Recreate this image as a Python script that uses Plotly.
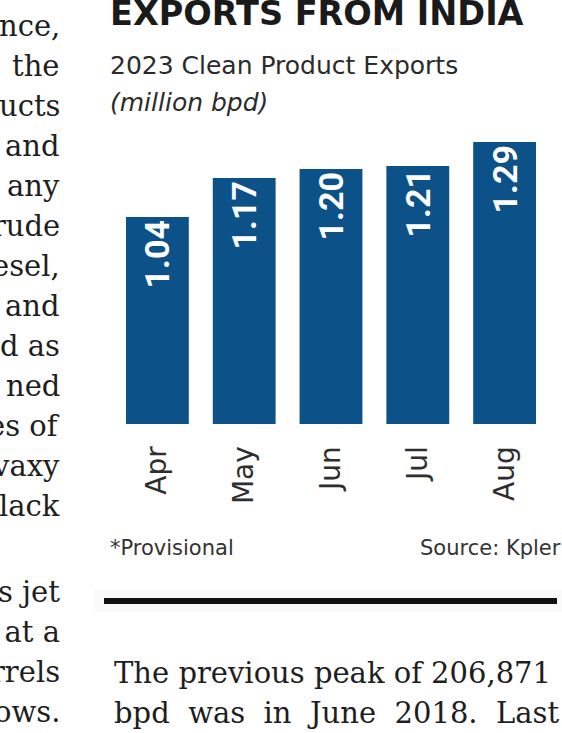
import plotly.graph_objects as go

# ---- data ----
months = ["Apr", "May", "Jun", "Jul", "Aug"]
exports_mbpd = [1.04, 1.17, 1.20, 1.21, 1.29]

title_text = "EXPORTS FROM INDIA"
subtitle_text = "2023 Clean Product Exports"
unit_text = "(million bpd)"
note_text = "*Provisional"
source_text = "Source: Kpler"

left_col_a = ["nce,", "the", "ucts", "and", "any", "rude", "esel,", "and",
              "d as", "ned", "es of", "vaxy", "lack"]
left_col_b = ["s jet", "l at a", "rrels", "ows."]
body_lines = ["The previous peak of 206,871",
              "bpd\u00a0\u00a0was\u00a0\u00a0in\u00a0\u00a0June\u00a0\u00a02018.\u00a0\u00a0Last"]

# ---- layout geometry ----
W, H = 562, 733
ML, MR, MT, MB = 114, 14, 109, 309
PW, PH = W - ML - MR, H - MT - MB


def px(x):
    return (x - ML) / PW


def py(y):
    return (H - MB - y) / PH


BAR = "#0c5289"
SERIF = "DejaVu Serif"
SANS = "DejaVu Sans"

fig = go.Figure(go.Bar(
    x=months, y=exports_mbpd,
    marker=dict(color=BAR, line=dict(width=0)),
    texttemplate="%{y:.2f}",
    textposition="inside",
    insidetextanchor="end",
    textangle=-90,
    insidetextfont=dict(family="Roboto", size=34, color="white", weight="bold"),
    hoverinfo="skip",
))

ann = []


def add(text, x, y, size, family=SANS, color="#1b1b1b", xanchor="left", **kw):
    ann.append(dict(text=text, x=px(x), y=py(y), xref="paper", yref="paper",
                    xanchor=xanchor, yanchor="middle", showarrow=False,
                    font=dict(family=family, size=size, color=color, **kw)))


# headline texts
add("<b>" + title_text + "</b>", 108, 14, 33.5, color="#1a1a1a")
add(subtitle_text, 108, 65, 25, color="#2b2b2b")
add("<i>" + unit_text + "</i>", 108, 102, 25, color="#2b2b2b")
add(note_text, 108, 548, 21, color="#333333")
add(source_text, 418, 548, 21, color="#333333")

# surrounding newspaper text
for i, t in enumerate(left_col_a):
    add(t, 62, 36 + 40 * i - 10, 29, family=SERIF, color="#1e1e1e", xanchor="right")
for i, t in enumerate(left_col_b):
    add(t, 62, 602 + 40 * i - 10, 29, family=SERIF, color="#1e1e1e", xanchor="right")
for i, t in enumerate(body_lines):
    add(t, 112, 683 + 40 * i - 10, 29, family=SERIF, color="#1e1e1e")

shapes = [
    # faint shadow behind rule
    dict(type="rect", xref="paper", yref="paper", x0=px(94), x1=px(562),
         y0=py(612), y1=py(590), fillcolor="#fafafa", line=dict(width=0), layer="below"),
    # thick rule
    dict(type="line", xref="paper", yref="paper", x0=px(104), x1=px(557),
         y0=py(601), y1=py(601), line=dict(color="#111111", width=6)),
]

fig.update_layout(
    width=W, height=H,
    margin=dict(l=ML, r=MR, t=MT, b=MB, pad=0),
    paper_bgcolor="white", plot_bgcolor="rgba(0,0,0,0)",
    bargap=0.276,
    showlegend=False,
    annotations=ann,
    shapes=shapes,
    xaxis=dict(
        type="category", range=[-0.5, 4.5], showgrid=False, zeroline=False,
        showline=False, ticks="outside", ticklen=10, tickcolor="rgba(0,0,0,0)",
        tickangle=-90, tickfont=dict(family=SANS, size=28, color="#2e2e2e"),
        fixedrange=True,
    ),
    yaxis=dict(range=[0.35, 1.40], visible=False, fixedrange=True),
)

fig.write_html("out.html", config={"displayModeBar": False})
